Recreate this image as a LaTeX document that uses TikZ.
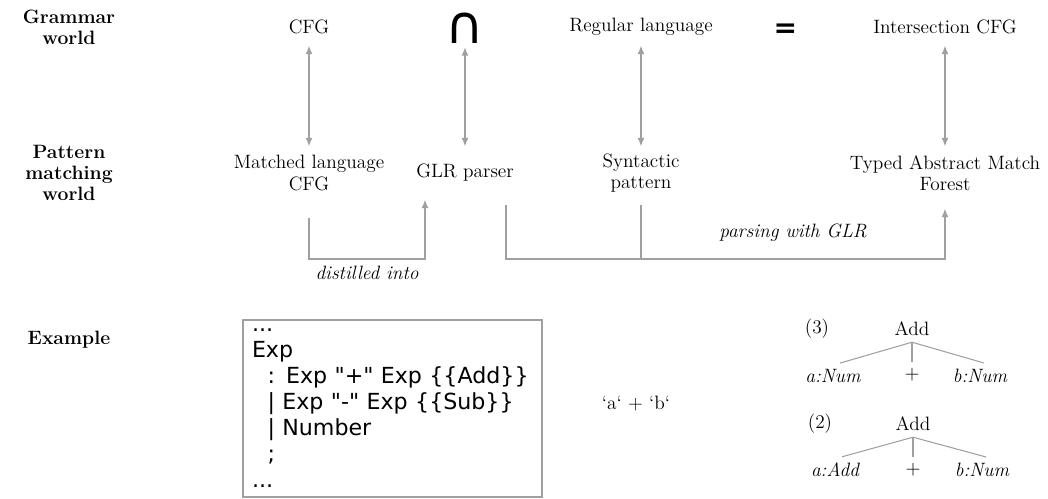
\documentclass[tikz,border=0pt]{standalone}
\usepackage{fontspec}
\newfontfamily\codefont{DejaVu Sans}
\usepackage{tikz}
\usetikzlibrary{arrows.meta,positioning}
\definecolor{linegray}{RGB}{160,160,160}

\begin{document}
\begin{tikzpicture}[font=\fontsize{11}{12}\selectfont]
    %styles
    \tikzstyle{world}=[font=\fontsize{11}{12}\selectfont\bfseries,align=center]
    \tikzstyle{gram}=[align=center,minimum height=0.72cm]
    \tikzstyle{patt}=[align=center,minimum height=1.04cm]
    \tikzstyle{sym}=[font=\codefont\fontsize{30}{30}\selectfont,inner sep=1pt]
    \tikzstyle{corr}=[<->,>={Latex[length=5pt,width=4pt]},draw=linegray,line width=1.1pt]
    \tikzstyle{flow}=[->,>={Latex[length=5pt,width=4pt]},draw=linegray,line width=1.1pt]
    \tikzstyle{link}=[draw=linegray,line width=1.1pt]
    \tikzstyle{note}=[font=\fontsize{11}{12}\selectfont\itshape]
    \tikzstyle{codebox}=[draw=linegray,line width=1.1pt,align=left,text width=5.62cm,inner sep=0.18cm,minimum height=3.5cm,font=\codefont\fontsize{12.6}{14.8}\selectfont]
    \tikzstyle{treeline}=[draw=linegray,line width=0.6pt]
    \useasboundingbox (0,0) rectangle (20.96,-9.96);
    %nodes
    \node[world] (gw) at (1.38,-0.54) {Grammar\\world};
    \node[world] (pw) at (1.38,-3.46) {Pattern\\matching\\world};
    \node[world] (ew) at (1.38,-6.8) {Example};

    \node[gram] (cfg) at (6.18,-0.54) {CFG};
    \node[gram,sym] (cap) at (9.3,-0.57) {∩};
    \node[sym,font=\codefont\bfseries\fontsize{16}{16}\selectfont] (eq) at (15.71,-0.62) {=};
    \node[gram] (reg) at (12.82,-0.54) {Regular language};
    \node[gram] (icfg) at (18.9,-0.54) {Intersection CFG};

    \node[patt] (mcfg) at (6.18,-3.46) {Matched language\\CFG};
    \node[patt] (glr) at (9.3,-3.46) {GLR parser};
    \node[patt] (syn) at (12.82,-3.46) {Syntactic\\pattern};
    \node[patt] (tamf) at (18.9,-3.46) {Typed Abstract Match\\Forest};

    \node[codebox] (grm) at (7.85,-8.17) {...\\
        Exp\\
        \hspace*{0.7em}: Exp "+" Exp \{\{Add\}\}\\
        \hspace*{0.7em}| Exp "-" Exp \{\{Sub\}\}\\
        \hspace*{0.7em}| Number\\
        \hspace*{0.7em};\\
        ...};
    \node (inp) at (12.72,-8.08) {`a` + `b`};

    \node (n3) at (16.34,-6.58) {(3)};
    \node (add3) at (18.24,-6.58) {Add};
    \node[note] (l3) at (16.66,-7.52) {a:Num};
    \node (p3) at (18.24,-7.5) {$+$};
    \node[note] (r3) at (19.6,-7.52) {b:Num};
    \node (n2) at (16.4,-8.48) {(2)};
    \node (add2) at (18.26,-8.48) {Add};
    \node[note] (l2) at (16.7,-9.4) {a:Add};
    \node (p2) at (18.26,-9.4) {$+$};
    \node[note] (r2) at (19.64,-9.4) {b:Num};

    %arrows
    \draw[corr] (cfg)--(mcfg);
    \draw[corr] (cap)--(glr);
    \draw[corr] (reg)--(syn);
    \draw[corr] (icfg)--(tamf);
    \draw[flow] ([yshift=-0.38cm]mcfg.south) |- node[pos=0.75,below,note] {distilled into} ([xshift=-0.8cm,yshift=-1.2cm]glr.south) -- ([xshift=-0.8cm]glr.south);
    \draw[flow] ([yshift=-0.12cm]syn.south) -- ++(0,-1.08) coordinate (pj) -| node[pos=0.25,above=0.22cm,note] {parsing with GLR} ([yshift=-0.18cm]tamf.south);
    \draw[link] ([xshift=0.82cm,yshift=-0.12cm]glr.south) |- (pj);

    \draw[treeline] (add3.south)--([xshift=0.14cm]l3.north);
    \draw[treeline] (add3.south)--(p3);
    \draw[treeline] (add3.south)--([xshift=0.08cm]r3.north);
    \draw[treeline] (add2.south)--([xshift=0.14cm]l2.north);
    \draw[treeline] (add2.south)--(p2);
    \draw[treeline] (add2.south)--([xshift=0.08cm]r2.north);
\end{tikzpicture}
\end{document}
